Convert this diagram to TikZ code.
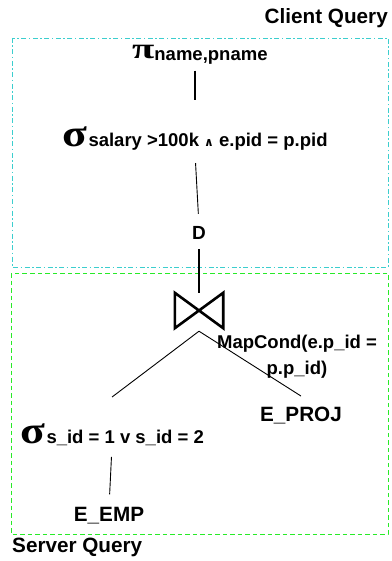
\documentclass[tikz,border=0pt]{standalone}
\usepackage{fontspec}
\setmainfont{Liberation Sans}
\newfontfamily\grkfont{Liberation Serif}
\newfontfamily\symfont{DejaVu Sans}
\usepackage{graphicx}
\usepackage{tikz}
\usetikzlibrary{positioning,calc}
\definecolor{clientcyan}{RGB}{60,206,206}
\definecolor{servergreen}{RGB}{40,235,40}
\newcommand{\bigsigma}{\scalebox{1.2}[1]{\grkfont\bfseries\fontsize{38}{38}\selectfont σ}\hspace{1.5pt}}
\newcommand{\bigpi}{\scalebox{1.4}[1]{\grkfont\fontsize{29}{29}\selectfont π}}
\newcommand{\andsym}{{\symfont\bfseries\fontsize{12}{12}\selectfont ∧}}
\tikzset{
  lbl/.style={font=\fontsize{20.7}{24}\selectfont\bfseries, inner sep=0pt},
  op/.style={font=\fontsize{18.5}{25.5}\selectfont\bfseries, inner sep=0pt},
  thin edge/.style={line width=0.9pt},
  thick edge/.style={line width=1.8pt},
  bowtie/.style={minimum width=48pt, minimum height=35pt, inner sep=0pt},
  clientbox/.style={clientcyan, line width=0.8pt, dash pattern=on 5pt off 2.5pt on 1.5pt off 2.5pt},
  serverbox/.style={servergreen, line width=0.8pt, dash pattern=on 4.5pt off 3pt}
}
\begin{document}
\begin{tikzpicture}[x=1pt, y=-1pt]
    \useasboundingbox (0,0) rectangle (391,561);

    % === Query boxes ===
    \draw[clientbox] (12,38) rectangle (388,267);
    \draw[serverbox] (11,273) rectangle (388,534);
    \node[lbl, anchor=base east] (client) at (388,24) {Client Query};
    \node[lbl, anchor=base west] (server) at (12,552) {Server Query};

    % === Client side ===
    \node[op, anchor=base west] (proj) at (132,59) {\bigpi\raisebox{-1.5pt}{name,pname}};
    \node[op, anchor=base west] (sel) at (62,147) {\bigsigma salary >100k \andsym{} e.pid = p.pid};
    \node[lbl, font=\fontsize{19}{22}\selectfont\bfseries, anchor=base] (D) at (199,239) {D};

    % === Server side ===
    \node[bowtie] (join) at (199,310.5) {};
    \node[op, align=center, anchor=north] (cond) at (297,335) {MapCond(e.p\_id =\\p.p\_id)};
    \node[lbl, anchor=base] (eproj) at (301,421.7) {E\_PROJ};
    \node[op, anchor=base west] (sel2) at (20,443) {\bigsigma s\_id = 1 v s\_id = 2};
    \node[lbl, anchor=base] (eemp) at (109,521.7) {E\_EMP};

    % Join symbol
    \draw[line width=2.6pt] (join.north west) -- (join.south east) -- (join.north east)
        -- (join.south west) -- cycle;

    % Tree edges
    \draw[thick edge, shorten <=6pt, shorten >=27pt] (sel.north |- proj.south) -- (sel.north);
    \draw[thin edge, shorten <=12pt, shorten >=12pt] (sel.south) -- (D.north);
    \draw[thick edge, shorten <=10pt] (D.south) -- (join.north);
    \draw[thin edge] ([yshift=-3pt]join.south) -- ([yshift=26pt]sel2.north);
    \draw[thin edge] ([yshift=-3pt]join.south) -- ([yshift=11pt]eproj.north);
    \draw[thin edge, shorten <=11.5pt, shorten >=13pt] (sel2.south) -- (eemp.north);

\end{tikzpicture}
\end{document}
